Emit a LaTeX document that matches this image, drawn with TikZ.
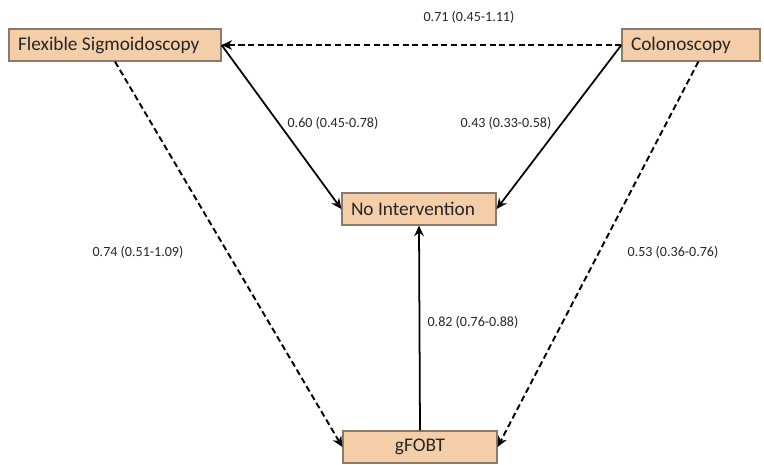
\documentclass[tikz,border=0pt]{standalone}
\usepackage{fontspec}
\setmainfont{Carlito}
\definecolor{tanfill}{RGB}{244,206,168}
\definecolor{tanline}{RGB}{140,122,104}
\usetikzlibrary{positioning,arrows.meta}

\begin{document}
\begin{tikzpicture}[
    x=0.02cm, y=-0.02cm,
    box/.style={draw=tanline, fill=tanfill, line width=0.7pt, inner sep=2pt,
                minimum height=32*0.02cm, font=\fontsize{11}{13}\selectfont,
                text=black!85},
    lbox/.style={box, align=flush left},
    arr/.style={-{Stealth[length=6pt, width=5.5pt, inset=2pt]}, line width=1pt,
                black},
    darr/.style={arr, line width=1.1pt, dash pattern=on 3.5pt off 2pt},
    lbl/.style={font=\fontsize{8}{9}\selectfont, text=black!85, inner sep=1pt},
]
\useasboundingbox (0,0) rectangle (764,464);

% --- NODES ---
\node[lbox, minimum width=212*0.02cm, text width=194*0.02cm] (flex) at (115, 45)
    {Flexible Sigmoidoscopy};
\node[lbox, minimum width=138*0.02cm, text width=120*0.02cm] (colo) at (691, 45)
    {Colonoscopy};
\node[lbox, minimum width=154*0.02cm, text width=136*0.02cm] (none) at (419, 209)
    {No Intervention};
\node[box, minimum width=154*0.02cm] (fobt) at (420, 447)
    {gFOBT};

% --- LABELS ---
\node[lbl] (l71) at (469, 17) {0.71 (0.45-1.11)};
\node[lbl] (l60) at (333, 123) {0.60 (0.45-0.78)};
\node[lbl] (l43) at (506, 123) {0.43 (0.33-0.58)};
\node[lbl] (l74) at (138, 252) {0.74 (0.51-1.09)};
\node[lbl] (l53) at (673, 252) {0.53 (0.36-0.76)};
\node[lbl] (l82) at (473, 322) {0.82 (0.76-0.88)};

% --- ARROWS ---
\draw[darr] (colo.west) -- (flex.east);
\draw[arr] (flex.east) -- (none.west);
\draw[arr] (colo.west) -- (none.east);
\draw[darr] (flex.south) -- (fobt.west);
\draw[darr] (colo.-66) -- (fobt.east);
\draw[arr] (fobt.north) -- (none.south);

\end{tikzpicture}
\end{document}
